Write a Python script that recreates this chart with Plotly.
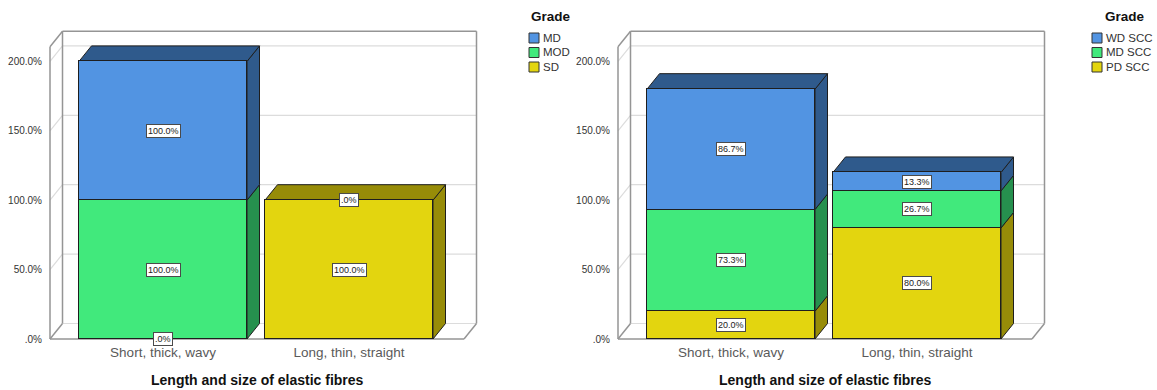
import plotly.graph_objects as go

# ---------------- data ----------------
categories = ["Short, thick, wavy", "Long, thin, straight"]

# Panel 1 (stacking order bottom -> top: SD, MOD, MD)
left_names = ["SD", "MOD", "MD"]
left_sd = [0.0, 100.0]
left_mod = [100.0, 0.0]
left_md = [100.0, None]

# Panel 2 (stacking order bottom -> top: PD SCC, MD SCC, WD SCC)
right_names = ["PD SCC", "MD SCC", "WD SCC"]
right_pd = [20.0, 80.0]
right_md = [73.3, 26.7]
right_wd = [86.7, 13.3]

y_ticks = [0, 50, 100, 150, 200]
y_tick_labels = [".0%", "50.0%", "100.0%", "150.0%", "200.0%"]
axis_title = "Length and size of elastic fibres"
legend_title = "Grade"

# ---------------- styling ----------------
W, H = 1157, 390
FONT = "Arial, Liberation Sans, sans-serif"
FRONT = ["#E3D50F", "#41E97C", "#5294E2"]
DARK = ["#978C08", "#26904E", "#2F5A8C"]
EDGE = "#1e1e1e"
FRAME = "#959595"
GRID = "#dcdcdc"

PX_PER_PCT = 1.388      # vertical pixels per percentage point
Y0_PX = 339             # pixel row of 0%
STEP_PX = 186           # distance between category centres
BAR_W_PX = 168
C0_PX = 163             # centre of first category (panel 1)
AXIS_PX = 50            # front-left edge of the 3-D box
FLOOR_END_PX = 464      # front-right edge of the floor
DEPTH_X_PX, DEPTH_Y_PX = 12.5, 15.5
Y_MAX = 210.5           # top of the box (percent)
PANEL_SHIFT = 568

DX = DEPTH_X_PX / STEP_PX
DY = DEPTH_Y_PX / PX_PER_PCT
BAR_W = BAR_W_PX / STEP_PX
X_LEFT = (AXIS_PX - C0_PX) / STEP_PX
X_RIGHT = (FLOOR_END_PX - C0_PX) / STEP_PX

DOM_L_PX, DOM_R_PX, DOM_B_PX = 46, 490, 342

fig = go.Figure()
shapes = []
annotations = []


def path(pts):
    return "M " + " L ".join(f"{x},{y}" for x, y in pts) + " Z"


def seg(xref, yref, p0, p1, color, width):
    shapes.append(dict(type="line", xref=xref, yref=yref, x0=p0[0], y0=p0[1],
                       x1=p1[0], y1=p1[1], layer="below",
                       line=dict(color=color, width=width)))


def face(xref, yref, pts, color):
    shapes.append(dict(type="path", xref=xref, yref=yref, path=path(pts),
                       fillcolor=color, layer="below",
                       line=dict(color=EDGE, width=1)))


def fmt(v):
    return ".0%" if v == 0 else f"{v:.1f}%"


def text(x_px, y_px, label, size, color, anchor="left"):
    annotations.append(dict(
        xref="paper", yref="paper", x=x_px / W, y=1 - y_px / H,
        xanchor=anchor, yanchor="middle", text=label, showarrow=False,
        font=dict(family=FONT, size=size, color=color),
    ))


def panel(idx, names, series):
    shift = PANEL_SHIFT * idx
    sfx = "" if idx == 0 else str(idx + 1)
    xref, yref = "x" + sfx, "y" + sfx
    xa, ya = "xaxis" + sfx, "yaxis" + sfx

    c0 = C0_PX + shift
    fig.layout[xa] = dict(
        domain=[(DOM_L_PX + shift) / W, (DOM_R_PX + shift) / W],
        range=[(DOM_L_PX + shift - c0) / STEP_PX, (DOM_R_PX + shift - c0) / STEP_PX],
        tickvals=list(range(len(categories))), ticktext=categories,
        showgrid=False, zeroline=False, showline=False, ticks="",
        tickfont=dict(family=FONT, size=13.5, color="#5a5a5a"),
        ticklabelstandoff=0, anchor=yref, fixedrange=True, automargin=False,
    )
    fig.layout[ya] = dict(
        domain=[(H - DOM_B_PX) / H, 1],
        range=[(Y0_PX - DOM_B_PX) / PX_PER_PCT, Y0_PX / PX_PER_PCT],
        tickvals=y_ticks, ticktext=y_tick_labels,
        showgrid=False, zeroline=False, showline=False, ticks="",
        tickfont=dict(family=FONT, size=10, color="#333333"),
        ticklabelstandoff=3, anchor=xref, fixedrange=True, automargin=False,
    )

    # 3-D box: back wall and left wall grid lines
    for t in y_ticks:
        seg(xref, yref, (X_LEFT + DX, t + DY), (X_RIGHT + DX, t + DY), GRID, 1.2)
        if t > 0:
            seg(xref, yref, (X_LEFT, t), (X_LEFT + DX, t + DY), GRID, 1.2)
    # 3-D box frame
    for p0, p1 in [
        ((X_LEFT, 0), (X_LEFT, Y_MAX)),
        ((X_LEFT, Y_MAX), (X_LEFT + DX, Y_MAX + DY)),
        ((X_LEFT + DX, Y_MAX + DY), (X_RIGHT + DX, Y_MAX + DY)),
        ((X_RIGHT + DX, Y_MAX + DY), (X_RIGHT + DX, DY)),
        ((X_LEFT + DX, DY), (X_LEFT + DX, Y_MAX + DY)),
        ((X_LEFT, 0), (X_RIGHT, 0)),
        ((X_RIGHT, 0), (X_RIGHT + DX, DY)),
        ((X_LEFT, 0), (X_LEFT + DX, DY)),
    ]:
        seg(xref, yref, p0, p1, FRAME, 1.5)

    # front faces: stacked bars
    for k, (name, vals) in enumerate(zip(names, series)):
        fig.add_trace(go.Bar(
            x=list(range(len(categories))), y=vals, width=BAR_W, name=name,
            marker=dict(color=FRONT[k], line=dict(color=EDGE, width=1)),
            xaxis=xref, yaxis=yref, showlegend=False, hoverinfo="skip",
        ))

    # side faces, top faces and value labels
    for i in range(len(categories)):
        xl, xr = i - BAR_W / 2, i + BAR_W / 2
        base = 0.0
        top_k = None
        for k, vals in enumerate(series):
            v = vals[i]
            if v is None:
                continue
            if v > 0:
                face(xref, yref, [(xr, base), (xr + DX, base + DY),
                                  (xr + DX, base + v + DY), (xr, base + v)], DARK[k])
                top_k = k
            annotations.append(dict(
                xref=xref, yref=yref, x=i, y=base + v / 2, text=fmt(v),
                xanchor="center", yanchor="middle",
                showarrow=False, bgcolor="white", bordercolor="#4a4a4a",
                borderwidth=1, borderpad=1,
                font=dict(family=FONT, size=9, color="#222222"),
            ))
            base += v
        if top_k is not None:
            face(xref, yref, [(xl, base), (xr, base), (xr + DX, base + DY),
                              (xl + DX, base + DY)], DARK[top_k])

    # axis title
    text((AXIS_PX + FLOOR_END_PX) / 2 + shift, 380, f"<b>{axis_title}</b>",
         14, "#111111", anchor="center")

    # legend (top entry is the last stacked series)
    lx = [529, 1092][idx]
    title_x = [lx, lx + 11][idx]
    text(title_x, 17, f"<b>{legend_title}</b>", 13.5, "#111111")
    for r, k in enumerate(reversed(range(len(names)))):
        cy = 38 + r * 14.5
        shapes.append(dict(
            type="rect", xref="paper", yref="paper",
            x0=lx / W, x1=(lx + 10) / W, y0=1 - (cy + 5) / H, y1=1 - (cy - 5) / H,
            fillcolor=FRONT[k], line=dict(color="#333333", width=1),
        ))
        text(lx + 12, cy, names[k], 11.5, "#333333")


panel(0, left_names, [left_sd, left_mod, left_md])
panel(1, right_names, [right_pd, right_md, right_wd])

fig.update_layout(
    width=W, height=H, margin=dict(l=0, r=0, t=0, b=0, autoexpand=False),
    paper_bgcolor="white", plot_bgcolor="white",
    barmode="stack", bargap=0, showlegend=False,
    shapes=shapes, annotations=annotations,
    font=dict(family=FONT),
)

fig.write_html("out.html", config={"displayModeBar": False})
